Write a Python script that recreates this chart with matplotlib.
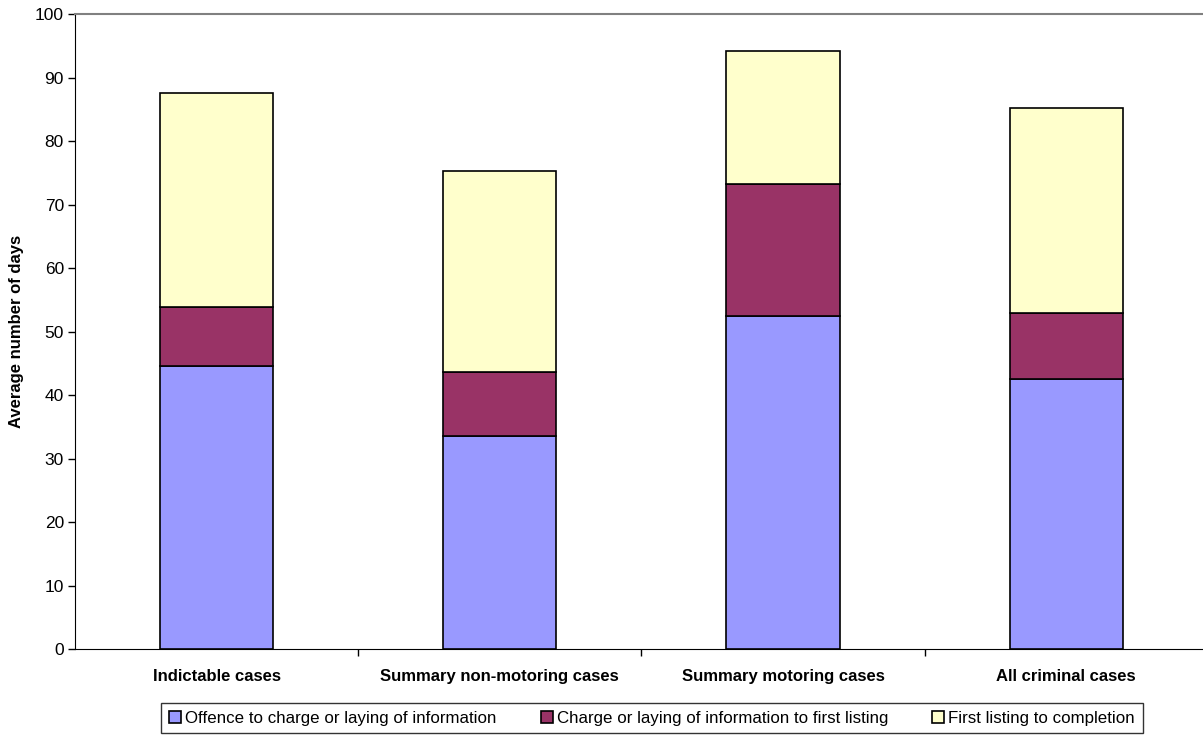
import matplotlib
matplotlib.use("Agg")
import matplotlib.pyplot as plt
import numpy as np
from matplotlib.ticker import FixedLocator

plt.rcParams['font.family'] = ['Liberation Sans', 'DejaVu Sans']

categories = ["Indictable cases", "Summary non-motoring cases",
              "Summary motoring cases", "All criminal cases"]
series_names = ["Offence to charge or laying of information",
                "Charge or laying of information to first listing",
                "First listing to completion"]
offence_to_charge = [44.6, 33.5, 52.5, 42.6]
charge_to_first_listing = [9.3, 10.2, 20.8, 10.4]
first_listing_to_completion = [33.7, 31.6, 20.9, 32.2]
colors = ["#9999FF", "#993366", "#FFFFCC"]

fig = plt.figure(figsize=(12.03, 7.35), dpi=100)
ax = fig.add_axes([75/1203, 1 - 649.3/735, 1128/1203, 635.3/735])

x = np.arange(len(categories))
width = 0.40
bottom = np.zeros(len(categories))
for vals, col, name in zip([offence_to_charge, charge_to_first_listing, first_listing_to_completion],
                           colors, series_names):
    ax.bar(x, vals, width, bottom=bottom, color=col, edgecolor="black",
           linewidth=1.2, label=name, zorder=3)
    bottom += np.array(vals)

ax.set_xlim(-0.5, -0.5 + 1128/283.2)
ax.set_ylim(0, 100)
ax.set_yticks(np.arange(0, 101, 10))
ax.tick_params(axis='y', labelsize=12.5, length=5, width=1, direction='out', pad=3)
ax.set_xticks(x)
ax.set_xticklabels(categories, fontsize=12, fontweight='bold')
ax.tick_params(axis='x', which='major', length=0, pad=14)
ax.xaxis.set_minor_locator(FixedLocator([0.5, 1.5, 2.5]))
ax.tick_params(axis='x', which='minor', length=5, width=1, direction='out')

ax.spines['left'].set_color('black')
ax.spines['bottom'].set_color('black')
ax.spines['top'].set_color('#808080')
ax.spines['top'].set_linewidth(1.5)
ax.spines['right'].set_visible(False)

ax.set_ylabel("Average number of days", fontsize=12, fontweight='bold', labelpad=8)

leg = fig.legend(loc='center', bbox_to_anchor=(652/1203, 1 - 718/735), ncol=3,
                 fontsize=12.2, frameon=True, fancybox=False, edgecolor='black',
                 handlelength=0.7, handleheight=0.7, handletextpad=0.25,
                 columnspacing=2.6, borderpad=0.45, borderaxespad=0)
leg.get_frame().set_linewidth(1.0)

fig.savefig("out.png", dpi=100)
